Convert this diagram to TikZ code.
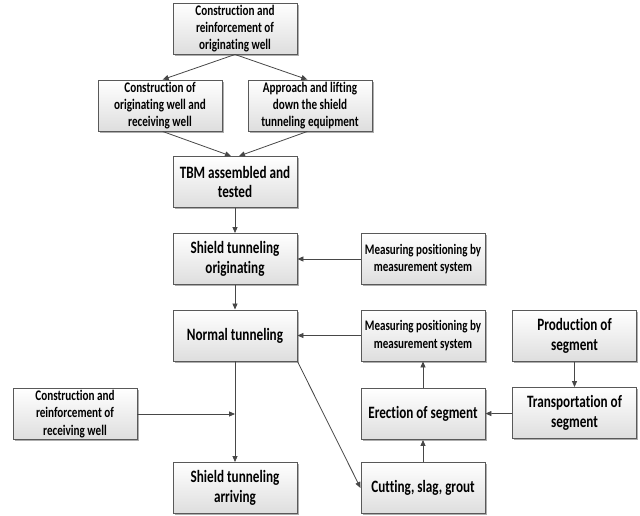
\documentclass[tikz,border=0pt]{standalone}
\usepackage{fontspec}
\setmainfont{Carlito}[FakeStretch=0.76,Ligatures=NoCommon]
\usetikzlibrary{arrows.meta,shadows}
\tikzset{
  box/.style={draw=black!65, line width=0.7pt, top color=white, bottom color=black!13,
    minimum width=93pt, minimum height=38.25pt, align=center, inner sep=1pt,
    drop shadow={shadow xshift=1.3pt, shadow yshift=-1.3pt, fill=black!45, opacity=0.7},
    font=\bfseries\fontsize{11}{12.9}\selectfont},
  bigbox/.style={box, font=\bfseries\fontsize{13}{14.8}\selectfont},
  mbox/.style={box, font=\bfseries\fontsize{10.9}{13.3}\selectfont},
  arr/.style={draw=black!72, line width=0.6pt, -{Triangle[length=4.5pt,width=3.8pt]}}
}
\begin{document}
\begin{tikzpicture}[x=0.75pt,y=-0.75pt]
\useasboundingbox (0,0) rectangle (640,515);
\node[box] (top) at (235,28.5) {Construction and\\reinforcement of\\originating well};
\node[box] (a) at (160,105.5) {Construction of\\originating well and\\receiving well};
\node[box] (b) at (310,105.5) {Approach and lifting\\down the shield\\tunneling equipment};
\node[bigbox] (tbm) at (235,182) {TBM assembled and\\tested};
\node[bigbox] (sto) at (235,259) {Shield tunneling\\originating};
\node[mbox] (m1) at (423,259) {Measuring positioning by\\measurement system};
\node[bigbox] (nt) at (235,335.5) {Normal tunneling};
\node[mbox] (m2) at (423,335.5) {Measuring positioning by\\measurement system};
\node[bigbox] (prod) at (574.5,336) {Production of\\segment};
\node[box] (recv) at (75,414) {Construction and\\reinforcement of\\receiving well};
\node[bigbox] (erect) at (423,414) {Erection of segment};
\node[bigbox] (trans) at (574.5,413) {Transportation of\\segment};
\node[bigbox] (arrv) at (235,488) {Shield tunneling\\arriving};
\node[bigbox] (cut) at (423,488) {Cutting, slag, grout};
\coordinate (j) at (recv.east -| nt.south);
\draw[arr] (top.south) -- ([xshift=2pt]a.north);
\draw[arr] (top.south) -- ([xshift=-2pt]b.north);
\draw[arr] ([xshift=2pt]a.south) -- ([xshift=-3pt]tbm.north);
\draw[arr] ([xshift=-2pt]b.south) -- ([xshift=3pt]tbm.north);
\draw[arr] (tbm) -- (sto);
\draw[arr] (m1) -- (sto);
\draw[arr] (sto) -- (nt);
\draw[arr] (m2) -- (nt);
\draw[arr] (nt) -- (arrv);
\draw[arr] (recv.east) -- (j);
\draw[arr] (nt.south east) -- (cut.west);
\draw[arr] (cut) -- (erect);
\draw[arr] (erect) -- (m2);
\draw[arr] (trans) -- (erect);
\draw[arr] (prod) -- (trans);
\end{tikzpicture}
\end{document}
